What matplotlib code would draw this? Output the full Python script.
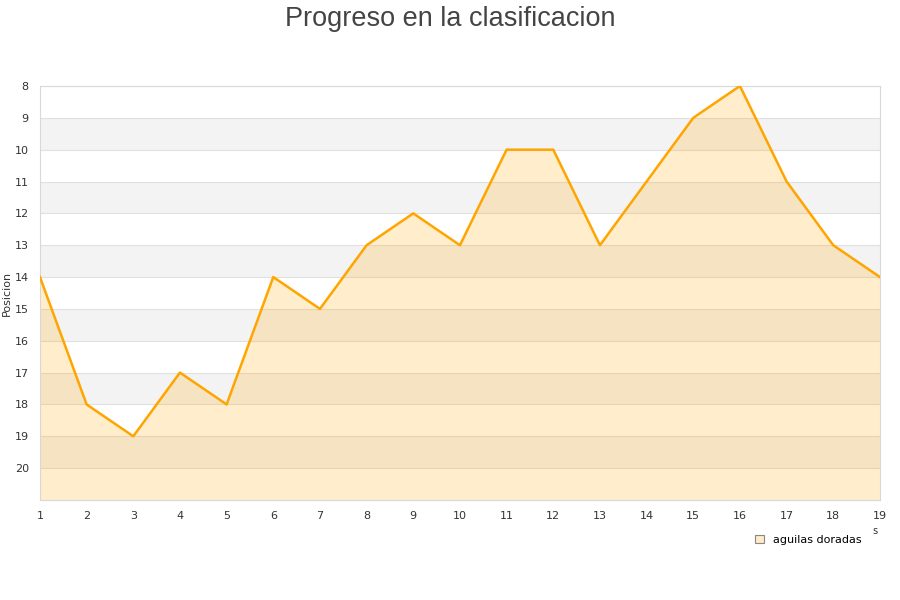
import matplotlib.pyplot as plt
from matplotlib.patches import Patch

# datos
jornadas = list(range(1, 20))
posicion = [14, 18, 19, 17, 18, 14, 15, 13, 12, 13, 10, 10, 13, 11, 9, 8, 11, 13, 14]
serie = 'aguilas doradas'

fig = plt.figure(figsize=(9, 6), dpi=100)
ax = fig.add_axes([0.0444, 0.1667, 0.9333, 0.69])

# bandas alternas
for y in range(9, 21, 2):
    ax.axhspan(y, y + 1, color='#f3f3f3', zorder=0, lw=0)
for y in range(8, 21):
    ax.axhline(y, color='#e0e0e0', lw=0.8, zorder=1)

ax.fill_between(jornadas, posicion, 21, color='orange', alpha=0.2, lw=0, zorder=2)
ax.plot(jornadas, posicion, color='orange', lw=1.8, zorder=3)

ax.set_xlim(1, 19)
ax.set_ylim(21, 8)
ax.set_xticks(jornadas)
ax.set_yticks(range(8, 21))
ax.tick_params(length=0, labelsize=8, colors='#333333', pad=8)
for s in ax.spines.values():
    s.set_color('#d8d8d8')

ax.set_ylabel('Posicion', fontsize=8, color='#333333', labelpad=2)
fig.text(0.972, 0.11, 's', fontsize=7, color='#333333', ha='center')

fig.suptitle('Progreso en la clasificacion', y=0.99, fontsize=19.5, color='#444444',
             family=['Liberation Sans Narrow', 'Liberation Sans', 'DejaVu Sans'])

fig.legend(handles=[Patch(facecolor='#ffebc8', edgecolor='#888888', lw=0.8, label=serie)],
           loc='center', bbox_to_anchor=(0.898, 0.1), frameon=False, fontsize=8,
           handlelength=0.8, handleheight=0.8, handletextpad=0.8)

fig.savefig('out.png', dpi=100)
